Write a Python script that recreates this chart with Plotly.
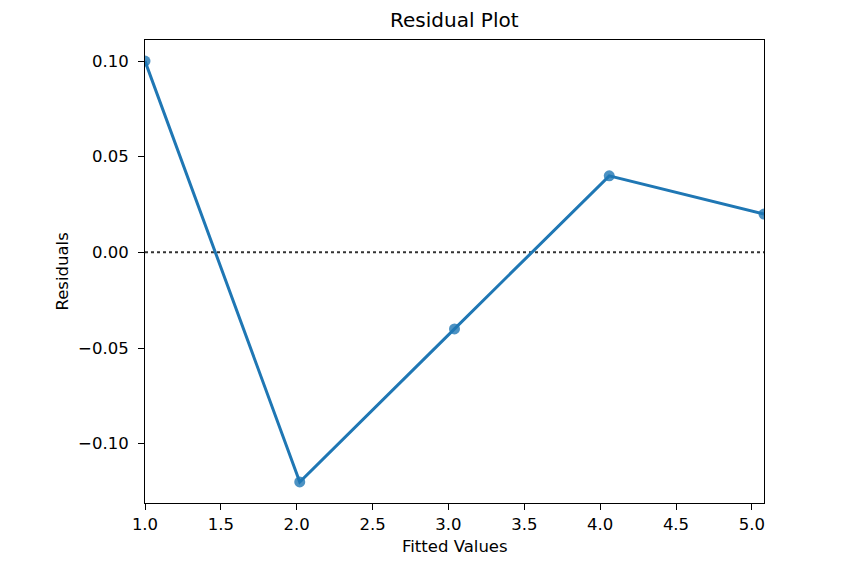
import plotly.graph_objects as go

fitted = [1.0, 2.02, 3.04, 4.06, 5.08]
residuals = [0.10, -0.12, -0.04, 0.04, 0.02]
x_ticks = [1.0, 1.5, 2.0, 2.5, 3.0, 3.5, 4.0, 4.5, 5.0]
y_ticks = [-0.10, -0.05, 0.00, 0.05, 0.10]

blue = "#1f77b4"
font = "DejaVu Sans"

fig = go.Figure()
fig.add_trace(go.Scatter(x=fitted, y=residuals, mode="markers",
                         marker=dict(color=blue, size=11, opacity=0.8, line=dict(width=0)),
                         showlegend=False, hoverinfo="skip"))
fig.add_trace(go.Scatter(x=fitted, y=residuals, mode="lines",
                         line=dict(color=blue, width=3),
                         showlegend=False))

fig.add_shape(type="line", xref="paper", yref="y", x0=0, x1=1, y0=0, y1=0,
              line=dict(color="#333333", width=2, dash="dot"), layer="below")

axis_common = dict(showline=True, linecolor="black", linewidth=1, mirror=True,
                   ticks="outside", ticklen=6, tickwidth=1, tickcolor="black",
                   showgrid=False, zeroline=False,
                   tickfont=dict(family=font, size=16.5, color="black"))

fig.update_layout(
    width=865, height=578,
    margin=dict(l=137, r=109, t=32, b=83),
    paper_bgcolor="white", plot_bgcolor="white",
    xaxis=dict(range=[min(fitted), max(fitted)], tickvals=x_ticks, tickformat=".1f", **axis_common),
    yaxis=dict(range=[-0.131, 0.111], tickvals=y_ticks, tickformat=".2f",
               ticklabelstandoff=6, **axis_common),
    annotations=[
        dict(text="Residual Plot", xref="paper", yref="paper", x=0.5, y=1, yshift=20,
             showarrow=False, yanchor="middle", font=dict(family=font, size=20, color="black")),
        dict(text="Fitted Values", xref="paper", yref="paper", x=0.5, y=0, yshift=-43,
             showarrow=False, yanchor="middle", font=dict(family=font, size=16.5, color="black")),
        dict(text="Residuals", xref="paper", yref="paper", x=0, y=0.5, xshift=-83,
             showarrow=False, xanchor="center", yanchor="middle", textangle=-90,
             font=dict(family=font, size=16.5, color="black")),
    ],
)

fig.write_html("out.html")
